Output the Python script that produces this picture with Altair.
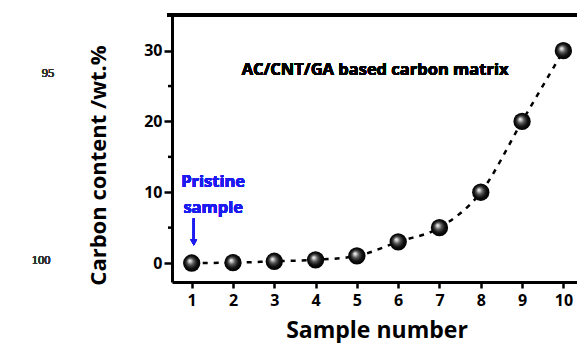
import altair as alt
import pandas as pd

samples = [1, 2, 3, 4, 5, 6, 7, 8, 9, 10]
carbon = [0, 0.05, 0.25, 0.45, 1, 3, 5, 10, 20, 30]
x_ticks = [1, 2, 3, 4, 5, 6, 7, 8, 9, 10]
y_ticks = [0, 10, 20, 30]
y_minor = [5, 15, 25]

df = pd.DataFrame({"sample": samples, "carbon": carbon})
minor_df = pd.DataFrame({"v": y_minor})

FONT = "Open Sans"
W, H = 405, 267
xs = alt.Scale(domain=[0.523, 10.33], nice=False, zero=False)
ys = alt.Scale(domain=[-2.68, 35.04], nice=False, zero=False)

x_axis = alt.Axis(values=x_ticks, title="Sample number", labelFont=FONT, labelFontWeight="bold",
                  labelFontSize=16, labelColor="black", labelPadding=4, tickSize=6, tickWidth=2.5,
                  tickColor="black", domainColor="black", domainWidth=3, grid=False,
                  titleFont=FONT, titleFontWeight="bold", titleFontSize=23, titleColor="black",
                  titleY=48, titleBaseline="middle", titleX=W / 2 + 2)
y_axis = alt.Axis(values=y_ticks, title="Carbon content /wt.%", labelFont=FONT, labelFontWeight="bold",
                  labelFontSize=16, labelColor="black", labelPadding=2, tickSize=8, tickWidth=2.5,
                  tickColor="black", domainColor="black", domainWidth=3, grid=False,
                  titleFont=FONT, titleFontWeight="bold", titleFontSize=22, titleColor="black",
                  titleAngle=270, titleX=-74, titleY=150, titleAlign="center", titleBaseline="middle")

base = alt.Chart(df)

line = base.mark_line(color="black", strokeWidth=2.5, strokeDash=[5, 6], interpolate="monotone").encode(
    x=alt.X("sample:Q", scale=xs, axis=x_axis),
    y=alt.Y("carbon:Q", scale=ys, axis=y_axis),
)

grad = alt.RadialGradient(
    gradient="radial", x1=0.38, y1=0.36, r1=0, x2=0.5, y2=0.5, r2=0.5,
    stops=[alt.GradientStop(color="#ffffff", offset=0),
           alt.GradientStop(color="#c8c8c8", offset=0.15),
           alt.GradientStop(color="#555555", offset=0.4),
           alt.GradientStop(color="#111111", offset=0.7),
           alt.GradientStop(color="#000000", offset=1)])

points = base.mark_circle(fill=grad, size=300, opacity=1).encode(
    x=alt.X("sample:Q", scale=xs),
    y=alt.Y("carbon:Q", scale=ys),
)

minor = alt.Chart(minor_df).mark_rule(color="black", strokeWidth=2.5).encode(
    y=alt.Y("v:Q", scale=ys), x=alt.value(-4), x2=alt.value(0)
)

top_border = alt.Chart(df).mark_rule(color="black", strokeWidth=3).encode(
    x=alt.value(-5), x2=alt.value(W), y=alt.value(0)
)

title_txt = alt.Chart(df).mark_text(text="AC/CNT/GA based carbon matrix", font=FONT, fontWeight="bold",
                                    fontSize=16.5, color="black", align="center", baseline="middle").encode(
    x=alt.datum(5.44, scale=xs), y=alt.datum(27.3, scale=ys)
)

pristine1 = alt.Chart(df).mark_text(text="Pristine", font=FONT, fontWeight="bold", fontSize=16.5,
                                    color="#1c1cf0", align="center", baseline="middle").encode(
    x=alt.datum(1.52, scale=xs), y=alt.datum(11.45, scale=ys)
)
pristine2 = alt.Chart(df).mark_text(text="sample", font=FONT, fontWeight="bold", fontSize=16.5,
                                    color="#1c1cf0", align="center", baseline="middle").encode(
    x=alt.datum(1.52, scale=xs), y=alt.datum(7.8, scale=ys)
)
arrow_shaft = alt.Chart(df).mark_rule(color="#1c1cf0", strokeWidth=2).encode(
    x=alt.datum(1.05, scale=xs), y=alt.datum(6.3, scale=ys), y2=alt.datum(3.3)
)
arrow_head = alt.Chart(df).mark_point(shape="triangle-down", filled=True, color="#1c1cf0",
                                      size=45, opacity=1).encode(
    x=alt.datum(1.05, scale=xs), y=alt.datum(2.9, scale=ys)
)

num95 = alt.Chart(df).mark_text(text="95", font="Liberation Serif", fontSize=12.5, fontWeight="normal",
                                color="#333333", align="center", baseline="middle").encode(
    x=alt.value(48 - 172), y=alt.value(73 - 15)
)
num100 = alt.Chart(df).mark_text(text="100", font="Liberation Serif", fontSize=12.5, fontWeight="normal",
                                 color="#333333", align="center", baseline="middle").encode(
    x=alt.value(41 - 172), y=alt.value(260 - 15)
)

chart = alt.layer(line, points, minor, top_border, title_txt, pristine1, pristine2,
                  arrow_shaft, arrow_head, num95, num100).properties(
    width=W, height=H,
    autosize=alt.AutoSizeParams(type="none"),
    padding={"left": 172, "top": 15, "right": 0, "bottom": 61},
    background="white",
).configure_view(stroke=None)

chart.save("out.html", embed_options={"renderer": "svg", "actions": False})
